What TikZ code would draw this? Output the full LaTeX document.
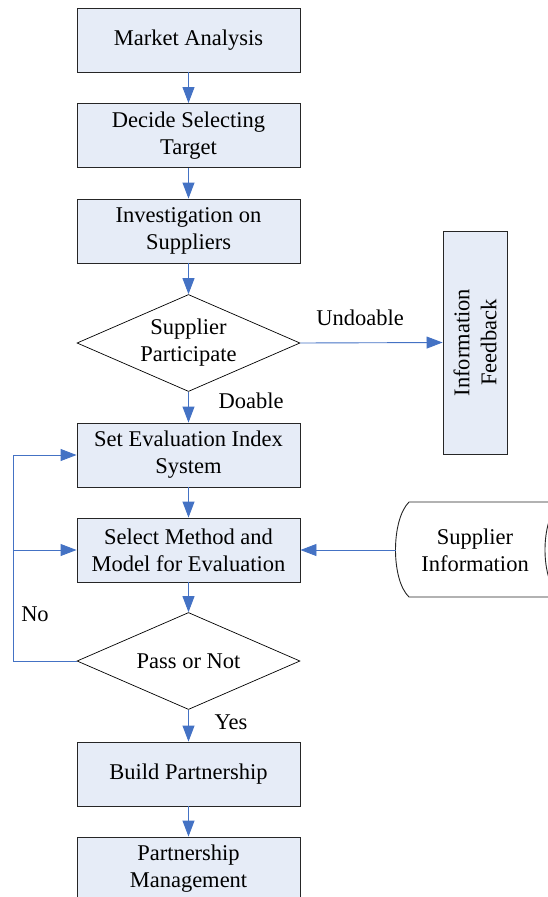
\documentclass[tikz,border=0pt]{standalone}
\usepackage{fontspec}
\setmainfont{Liberation Serif}
\usetikzlibrary{shapes.geometric,arrows.meta}
\definecolor{boxfill}{HTML}{E6ECF7}
\definecolor{linkblue}{HTML}{4472C4}
\definecolor{edgegray}{HTML}{262626}
\begin{document}
\begin{tikzpicture}[x=1pt,y=-1pt,
  font=\fontsize{22.5}{27}\selectfont,
  stepbox/.style={draw=edgegray,line width=0.9pt,fill=boxfill,minimum width=223pt,minimum height=64pt,inner sep=0pt,align=center},
  decision/.style={draw=black,line width=0.7pt,fill=white,diamond,aspect=2.3,minimum width=223pt,minimum height=97pt,inner sep=0pt,align=center},
  link/.style={draw=linkblue,line width=0.9pt,-{Triangle[length=16pt,width=12pt]}},
  plainlink/.style={draw=linkblue,line width=0.9pt},
  lbl/.style={inner sep=0pt}]
\useasboundingbox (0,0) rectangle (548,897);
\begin{scope}
\clip (0,0) rectangle (548,897);
\node[stepbox] (ma) at (188.5,40) {Market Analysis};
\node[stepbox] (dst) at (188.5,135.5) {Decide Selecting\\Target};
\node[stepbox] (inv) at (188.5,231) {Investigation on\\Suppliers};
\node[decision] (sp) at (188.5,343) {Supplier\\Participate};
\node[stepbox] (sei) at (188.5,455) {Set Evaluation Index\\System};
\node[stepbox] (smm) at (188.5,550) {Select Method and\\Model for Evaluation};
\node[decision] (pon) at (188.5,661) {Pass or Not};
\node[stepbox] (bp) at (188.5,774) {Build Partnership};
\node[stepbox] (pm) at (188.5,869) {Partnership\\Management};
\node[stepbox,rotate=90] (fb) at (475,342.5) {Information\\Feedback};
% supplier information (stored data)
\draw[draw=edgegray,line width=0.9pt,fill=white]
  (409,502) -- (560,502) .. controls (540,520) and (540,580) .. (560,597)
  -- (409,597) .. controls (391,580) and (391,520) .. (409,502);
\coordinate (si) at (395.5,550);
\node[lbl] (sit) at (475,550) [align=center] {Supplier\\Information};
% connectors
\draw[link] (ma) -- (dst);
\draw[link] (dst) -- (inv);
\draw[link] (inv) -- (sp);
\draw[link] (sp) -- (sei);
\draw[link] (sp.east) -- (fb.north);
\draw[link] (sei) -- (smm);
\draw[link] (smm) -- (pon);
\draw[link] (pon) -- (bp);
\draw[link] (bp) -- (pm);
\draw[link] (si) -- (smm.east);
\coordinate (lt) at (13,455);
\coordinate (lm) at (13,550);
\coordinate (lb) at (13,661);
\draw[plainlink] (pon.west) -- (lb) -- (lt);
\draw[link] (lt) -- (sei.west);
\draw[link] (lm) -- (smm.west);
% labels
\node[lbl] (undo) at (360,318) {Undoable};
\node[lbl] (doab) at (251,401) {Doable};
\node[lbl] (no) at (35,614) {No};
\node[lbl] (yes) at (231,722) {Yes};
\end{scope}
\end{tikzpicture}
\end{document}
